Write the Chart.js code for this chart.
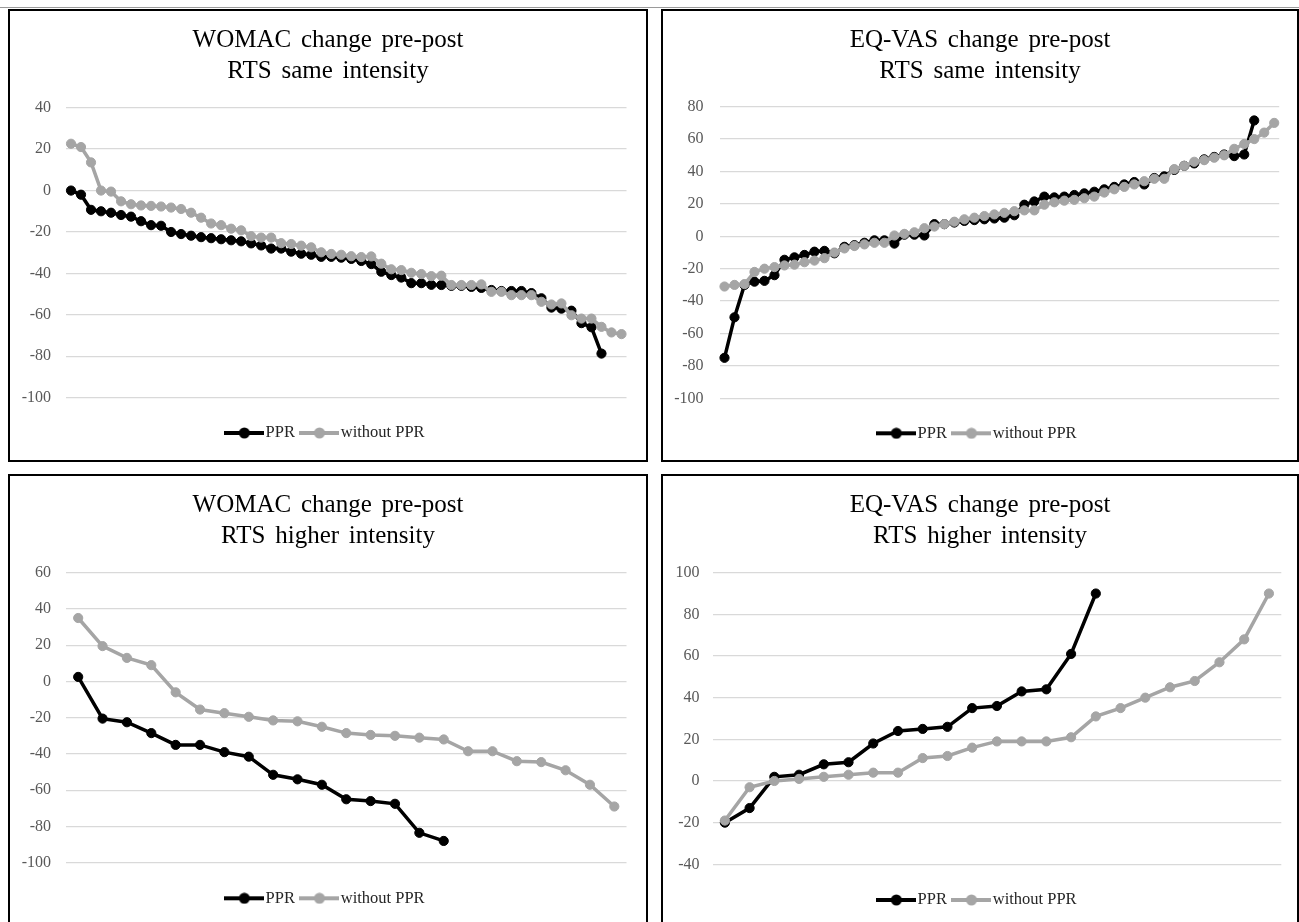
<!DOCTYPE html>
<html>
<head>
<meta charset="utf-8">
<script src="https://cdn.jsdelivr.net/npm/chart.js@4.4.1/dist/chart.umd.min.js"></script>
<style>
  html, body { margin: 0; padding: 0; background: #fff; width: 1299px; height: 922px; overflow: hidden; position: relative; }
  .panel { position: absolute; border: 2px solid #000; box-sizing: border-box; background: #fff; overflow: hidden; }
  .panel canvas { display: block; }
  .topline { position: absolute; left: 0; top: 7px; width: 1299px; height: 1px; background: #9a9a9a; }
</style>
</head>
<body>
<div class="topline"></div>
<div class="panel" style="left:8px;top:9px;width:640px;height:453px"><canvas id="c1" width="636" height="449"></canvas></div>
<div class="panel" style="left:661px;top:9px;width:638px;height:453px"><canvas id="c2" width="634" height="449"></canvas></div>
<div class="panel" style="left:8px;top:474px;width:640px;height:453px"><canvas id="c3" width="636" height="449"></canvas></div>
<div class="panel" style="left:661px;top:474px;width:638px;height:453px"><canvas id="c4" width="634" height="449"></canvas></div>
<script>
// ---------- categories ----------
const sameCategories = [1,2,3,4,5,6,7,8,9,10,11,12,13,14,15,16,17,18,19,20,21,22,23,24,25,26,27,28,29,30,31,32,33,34,35,36,37,38,39,40,41,42,43,44,45,46,47,48,49,50,51,52,53,54,55,56];
const higherCategories = [1,2,3,4,5,6,7,8,9,10,11,12,13,14,15,16,17,18,19,20,21,22,23];

// ---------- series ----------
const seriesNames = ['PPR', 'without PPR'];
const seriesColors = ['#000000', '#A5A5A5'];

// WOMAC change pre-post, RTS same intensity
const womacSamePPR = [0, -2, -9.3, -10, -10.7, -11.8, -12.6, -14.8, -16.7, -17, -20, -21, -21.8, -22.5, -23, -23.5, -24, -24.5, -25.5, -26.5, -28, -28, -29.5, -30.5, -31, -32, -32, -32.4, -33, -34, -35.5, -39.2, -40.8, -42, -44.7, -44.7, -45.5, -45.6, -46, -46, -46.5, -47, -48, -48.5, -48.5, -48.5, -49.5, -52, -56.5, -57, -58, -64, -66, -78.7];
const womacSameNoPPR = [22.6, 21, 13.6, 0, -0.5, -5.2, -6.6, -7.2, -7.4, -7.7, -8.2, -8.9, -10.7, -13.1, -15.9, -16.7, -18.4, -19.2, -22, -22.7, -22.7, -25.4, -25.8, -26.6, -27.4, -29.8, -30.6, -31, -31.7, -32.1, -31.8, -35.3, -38, -38.4, -39.7, -40.3, -41.3, -41.1, -45.6, -45.6, -45.6, -45.3, -48.9, -48.9, -50.5, -50.5, -50.5, -53.7, -55, -54.5, -60.2, -61.8, -61.8, -65.8, -68.5, -69.3];

// EQ-VAS change pre-post, RTS same intensity
const vasSamePPR = [-75, -50, -30, -28, -27.5, -24, -14.5, -13, -11.5, -9.5, -9, -10.5, -6.5, -5.5, -4, -2.5, -2.5, -4.5, 1, 1, 0.5, 7.5, 7.5, 8.5, 9.5, 10, 10.5, 11, 11.5, 13, 19.5, 21.5, 24.5, 24, 24.5, 25.5, 26.5, 27.5, 29, 30.5, 32, 33.5, 32, 36, 37, 41, 43.5, 45, 47.5, 49, 50.5, 49.5, 50.5, 71.5];
const vasSameNoPPR = [-31, -30, -29.5, -22, -20, -19, -18, -17.5, -16, -15, -13.5, -10, -7.5, -6, -5, -4, -4, 0.5, 1.5, 2.5, 5, 6, 7.5, 9, 10.5, 11.5, 12.5, 13.5, 14.5, 15.5, 16, 16, 19.5, 21, 22, 22.5, 23.5, 24.5, 27, 29, 30.5, 32, 34, 35.5, 35.5, 41.5, 43.5, 46, 47, 48.5, 50, 54, 57, 60, 64, 70];

// WOMAC change pre-post, RTS higher intensity
const womacHigherPPR = [2.5, -20.5, -22.5, -28.5, -35, -35, -39, -41.5, -51.5, -54, -57, -65, -66, -67.5, -83.5, -88];
const womacHigherNoPPR = [35, 19.5, 13, 9, -6, -15.5, -17.5, -19.5, -21.5, -22, -25, -28.5, -29.5, -30, -31, -32, -38.5, -38.5, -44, -44.5, -49, -57, -69];

// EQ-VAS change pre-post, RTS higher intensity
const vasHigherPPR = [-20, -13, 2, 3, 8, 9, 18, 24, 25, 26, 35, 36, 43, 44, 61, 90];
const vasHigherNoPPR = [-19, -3, 0, 1, 2, 3, 4, 4, 11, 12, 16, 19, 19, 19, 21, 31, 35, 40, 45, 48, 57, 68, 90];

// ---------- tick labels ----------
const womacSameTicks = [40, 20, 0, -20, -40, -60, -80, -100];
const vasSameTicks = [80, 60, 40, 20, 0, -20, -40, -60, -80, -100];
const womacHigherTicks = [60, 40, 20, 0, -20, -40, -60, -80, -100];
const vasHigherTicks = [100, 80, 60, 40, 20, 0, -20, -40];

// ---------- titles ----------
const titles = [
  ['WOMAC change pre-post', 'RTS same intensity'],
  ['EQ-VAS change pre-post', 'RTS same intensity'],
  ['WOMAC change pre-post', 'RTS higher intensity'],
  ['EQ-VAS change pre-post', 'RTS higher intensity']
];

function legendIcon(color) {
  const c = document.createElement('canvas');
  c.width = 40; c.height = 12;
  const g = c.getContext('2d');
  g.strokeStyle = color; g.lineWidth = 4;
  g.beginPath(); g.moveTo(0, 6); g.lineTo(40, 6); g.stroke();
  g.fillStyle = color;
  g.beginPath(); g.arc(20, 6, 5.5, 0, Math.PI * 2); g.fill();
  return c;
}
const legendIcons = seriesColors.map(legendIcon);

// widen word gaps of the title only (as in the original figure)
const titleSpacing = {
  id: 'titleSpacing',
  beforeDraw(chart) {
    const tb = chart.titleBlock;
    if (tb && !tb._spaced) {
      const orig = tb.draw;
      tb.draw = function (area) {
        const ctx = this.ctx;
        ctx.save();
        if ('wordSpacing' in ctx) ctx.wordSpacing = '3.5px';
        orig.call(this, area);
        ctx.restore();
      };
      tb._spaced = true;
    }
  }
};

function makeChart(id, titleLines, cats, ppr, noPpr, ticks, geo) {
  const W = geo.w, H = geo.h;
  const titleSize = 25, titleLH = 31;
  const padTop = geo.line1 - titleLH / 2;
  const padBottom = geo.top - padTop - 2 * titleLH;
  const legFont = 16.5, legPad = 11.5;
  const legH = legFont + legPad + 10;
  const legTop = geo.legendY - legPad - legFont / 2;
  const gap = legTop - geo.bottom;
  const pb = H - legTop - legH;
  const ds = (i, data, order) => ({
    label: seriesNames[i], data: data,
    borderColor: seriesColors[i], backgroundColor: seriesColors[i],
    pointBackgroundColor: seriesColors[i], pointBorderColor: seriesColors[i],
    borderWidth: 3.5, pointRadius: 4.6, pointBorderWidth: 1, pointHoverRadius: 4.6,
    tension: 0, fill: false, order: order
  });
  return new Chart(document.getElementById(id), {
    type: 'line',
    data: { labels: cats, datasets: [ds(0, ppr, 1), ds(1, noPpr, 0)] },
    plugins: [titleSpacing],
    options: {
      responsive: false, animation: false, devicePixelRatio: 1,
      events: [],
      layout: { padding: { left: 8, right: 8, top: 0, bottom: pb } },
      plugins: {
        title: {
          display: true, text: titleLines, color: '#000',
          font: { family: 'Liberation Serif', size: titleSize, weight: 'normal', lineHeight: titleLH / titleSize },
          padding: { top: padTop, bottom: padBottom }
        },
        legend: {
          display: true, position: 'bottom',
          labels: {
            usePointStyle: true, pointStyleWidth: 26, padding: legPad, color: '#262626',
            font: { family: 'Liberation Serif', size: legFont },
            generateLabels: chart => chart.data.datasets.map((d, i) => ({
              text: d.label, pointStyle: legendIcons[i], fillStyle: d.borderColor,
              strokeStyle: d.borderColor, lineWidth: 0, hidden: false, datasetIndex: i, fontColor: '#262626'
            }))
          }
        },
        tooltip: { enabled: false }
      },
      scales: {
        x: {
          type: 'category', offset: true,
          grid: { display: false }, border: { display: false }, ticks: { display: false },
          afterFit: s => { s.height = gap; }
        },
        y: {
          position: 'left', min: ticks[ticks.length - 1], max: ticks[0],
          afterBuildTicks: s => { s.ticks = ticks.slice().reverse().map(v => ({ value: v })); },
          ticks: { color: '#595959', font: { family: 'Liberation Serif', size: 16 }, padding: geo.tickPad },
          grid: { color: '#d9d9d9', lineWidth: 1.3, drawTicks: false },
          border: { display: false },
          afterFit: s => { s.width = geo.left - 8; }
        },
        y2: {
          position: 'right',
          grid: { display: false }, border: { display: false }, ticks: { display: false },
          afterFit: s => { s.width = W - geo.right - 8; }
        }
      }
    }
  });
}

makeChart('c1', titles[0], sameCategories, womacSamePPR, womacSameNoPPR, womacSameTicks,
  { w: 636, h: 449, left: 56, right: 616.5, top: 96.7, bottom: 386.7, line1: 29.5, legendY: 422, tickPad: 15 });
makeChart('c2', titles[1], sameCategories, vasSamePPR, vasSameNoPPR, vasSameTicks,
  { w: 634, h: 449, left: 56.5, right: 616.2, top: 95.7, bottom: 387.3, line1: 29.5, legendY: 422.3, tickPad: 16 });
makeChart('c3', titles[2], higherCategories, womacHigherPPR, womacHigherNoPPR, womacHigherTicks,
  { w: 636, h: 449, left: 56, right: 616.5, top: 96.7, bottom: 386.7, line1: 29.8, legendY: 422.3, tickPad: 15 });
makeChart('c4', titles[3], higherCategories, vasHigherPPR, vasHigherNoPPR, vasHigherTicks,
  { w: 634, h: 449, left: 49.5, right: 618.3, top: 96.7, bottom: 388.3, line1: 29.8, legendY: 424, tickPad: 13 });
</script>
</body>
</html>
